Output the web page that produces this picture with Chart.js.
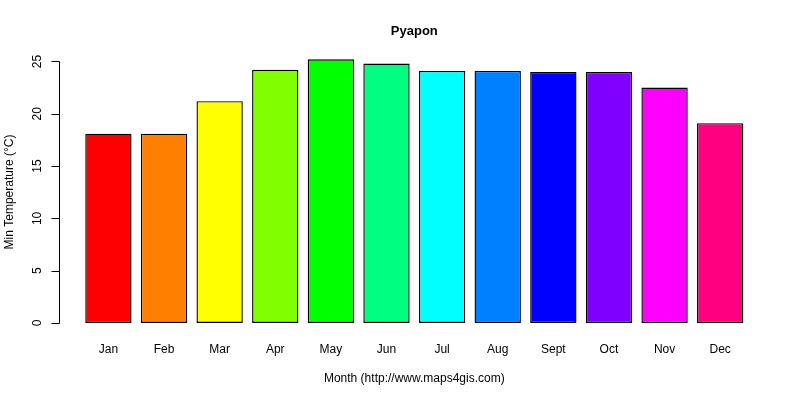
<!DOCTYPE html>
<html>
<head>
<meta charset="utf-8">
<script src="https://cdn.jsdelivr.net/npm/chart.js@4"></script>
<style>
  html, body { margin: 0; padding: 0; background: #fff; }
  #wrap { width: 800px; height: 400px; }
</style>
</head>
<body>
<div id="wrap"><canvas id="myChart"></canvas></div>
<script>
// data
const months = ["Jan", "Feb", "Mar", "Apr", "May", "Jun", "Jul", "Aug", "Sept", "Oct", "Nov", "Dec"];
const minTemps = [18.1, 18.1, 21.2, 24.2, 25.2, 24.8, 24.1, 24.1, 24.0, 24.0, 22.5, 19.1];
const barColors = ["#FF0000", "#FF8000", "#FFFF00", "#80FF00", "#00FF00", "#00FF80",
                   "#00FFFF", "#0080FF", "#0000FF", "#8000FF", "#FF00FF", "#FF0080"];
const yTicks = [0, 5, 10, 15, 20, 25];

const FONT = "'Liberation Sans', Arial, sans-serif";

// R style axis + titles, placed off the plot region
const rAxis = {
  id: "rAxis",
  afterDraw(chart) {
    const ctx = chart.ctx;
    const y = chart.scales.y;
    const area = chart.chartArea;
    const x0 = 59.5;
    ctx.save();
    ctx.strokeStyle = "#000";
    ctx.lineWidth = 1;
    ctx.beginPath();
    ctx.moveTo(x0, Math.round(y.getPixelForValue(yTicks[0])) + 0.5);
    ctx.lineTo(x0, Math.round(y.getPixelForValue(yTicks[yTicks.length - 1])) + 0.5);
    yTicks.forEach(v => {
      const py = Math.round(y.getPixelForValue(v)) + 0.5;
      ctx.moveTo(x0, py);
      ctx.lineTo(x0 - 8, py);
    });
    ctx.stroke();
    ctx.fillStyle = "#000";
    ctx.font = "12px " + FONT;
    ctx.textAlign = "center";
    ctx.textBaseline = "middle";
    yTicks.forEach(v => {
      ctx.save();
      ctx.translate(38, y.getPixelForValue(v));
      ctx.rotate(-Math.PI / 2);
      ctx.fillText(String(v), 0, 0);
      ctx.restore();
    });
    // y title
    ctx.save();
    ctx.translate(10, 192);
    ctx.rotate(-Math.PI / 2);
    ctx.fillText("Min Temperature (°C)", 0, 0);
    ctx.restore();
    // main title, centred on the plot
    ctx.font = "bold 13px " + FONT;
    ctx.fillText("Pyapon", (area.left + area.right) / 2, 31.5);
    ctx.restore();
  }
};

new Chart(document.getElementById("myChart"), {
  type: "bar",
  data: {
    labels: months,
    datasets: [{
      label: "Min Temperature (°C)",
      data: minTemps,
      backgroundColor: barColors,
      borderColor: "#000",
      borderWidth: 1.4,
      borderSkipped: false,
      barPercentage: 0.833,
      categoryPercentage: 1.0
    }]
  },
  options: {
    responsive: true,
    maintainAspectRatio: false,
    animation: false,
    layout: { padding: { left: 0, right: 52, top: 51, bottom: 0 } },
    plugins: {
      legend: { display: false },
      tooltip: { enabled: false },
      title: { display: false }
    },
    scales: {
      x: {
        grid: { display: false, drawTicks: false },
        border: { display: false },
        ticks: { color: "#000", font: { family: FONT, size: 12 }, padding: 19, maxRotation: 0 },
        title: {
          display: true,
          text: "Month (http://www.maps4gis.com)",
          color: "#000",
          font: { family: FONT, size: 12 },
          padding: { top: 0, bottom: 14 }
        },
        afterFit(s) { s.height = 77; }
      },
      y: {
        min: 0,
        max: 26,
        grid: { display: false, drawTicks: false },
        border: { display: false },
        ticks: { display: false, stepSize: 5 },
        title: { display: false },
        afterFit(s) { s.width = 80.6; }
      }
    }
  },
  plugins: [rAxis]
});
</script>
</body>
</html>
